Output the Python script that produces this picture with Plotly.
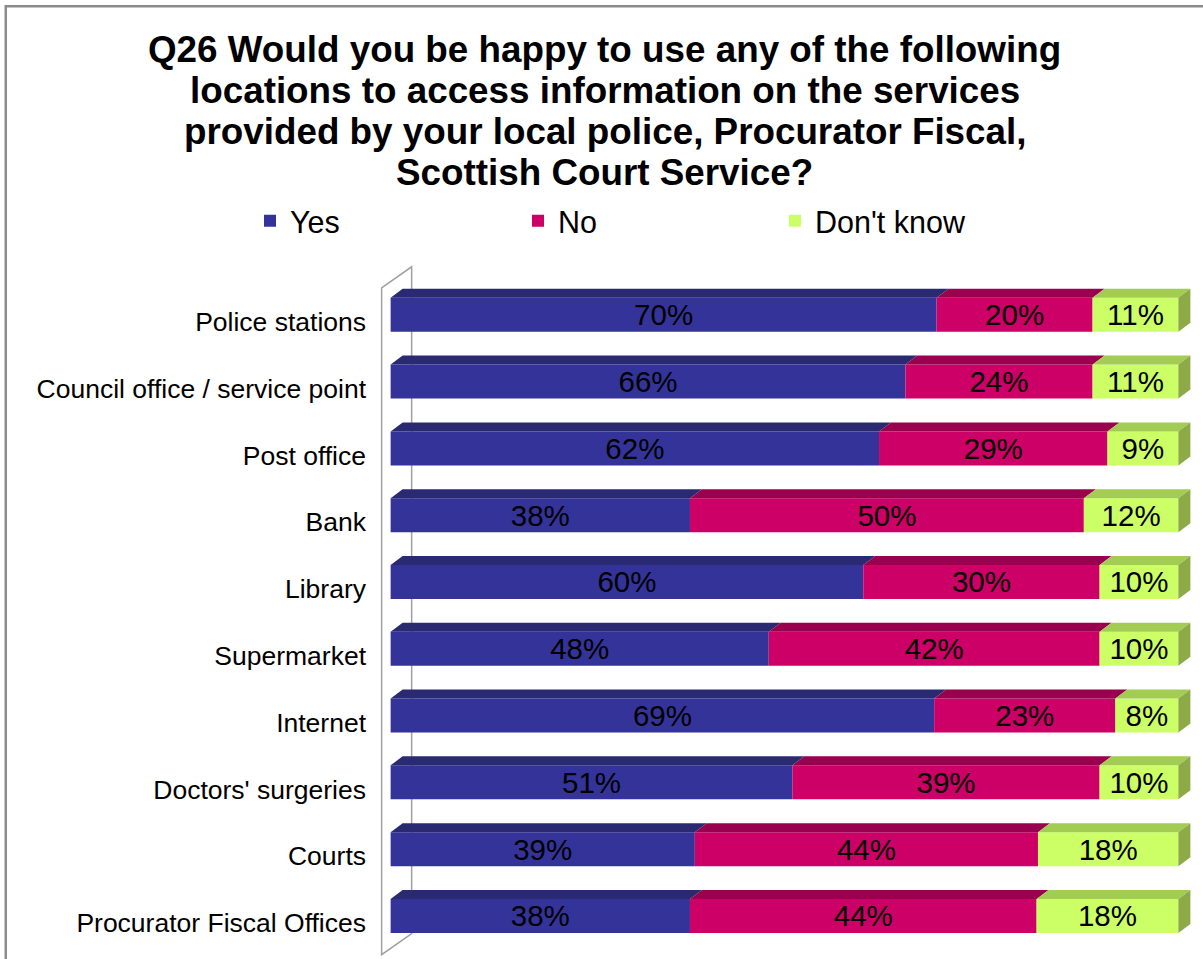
import plotly.graph_objects as go

# ---- survey data -------------------------------------------------------
categories = [
    "Police stations",
    "Council office / service point",
    "Post office",
    "Bank",
    "Library",
    "Supermarket",
    "Internet",
    "Doctors' surgeries",
    "Courts",
    "Procurator Fiscal Offices",
]
yes = [70, 66, 62, 38, 60, 48, 69, 51, 39, 38]
no = [20, 24, 29, 50, 30, 42, 23, 39, 44, 44]
dont_know = [11, 11, 9, 12, 10, 10, 8, 10, 18, 18]

series_names = ["Yes", "No", "Don't know"]
title_lines = [
    "Q26 Would you be happy to use any of the following",
    "locations to access information on the services",
    "provided by your local police, Procurator Fiscal,",
    "Scottish Court Service?",
]

# ---- styling -----------------------------------------------------------
FONT = "Liberation Sans, Arial, sans-serif"
front_col = ["#333399", "#CC0066", "#CCFF66"]
top_col = ["#2A2A73", "#99004D", "#A3CC52"]
side_col = "#8CAA46"
wall_col = "#A0A0A0"

W, H = 1203, 959
X0_PX, PX_PER_PCT = 391.0, 7.87       # pixel of 0 % and pixels per percent
Y0_PX, ROW_PX = 315.0, 66.8           # centre of first row and row pitch
XR = [-3.0, 103.0]
YR = [9.6, -1.0]                      # reversed: first category at the top

m_l = X0_PX + XR[0] * PX_PER_PCT
plot_w = (XR[1] - XR[0]) * PX_PER_PCT
m_r = W - m_l - plot_w
m_t = Y0_PX + YR[1] * ROW_PX
plot_h = (YR[0] - YR[1]) * ROW_PX
m_b = H - m_t - plot_h

BAR_W = 34.0 / ROW_PX
DX = 12.0 / PX_PER_PCT                # 3-D depth offset (x, data units)
DY = 9.0 / ROW_PX                     # 3-D depth offset (y, data units)


def xd(px):
    return (px - X0_PX) / PX_PER_PCT


def yd(py):
    return (py - Y0_PX) / ROW_PX


def paper_x(px):
    return (px - m_l) / plot_w


def paper_y(py):
    return (m_t + plot_h - py) / plot_h


# 100 % stacked shares
rows = list(zip(yes, no, dont_know))
shares = [[v * 100.0 / sum(r) for v in r] for r in rows]
ypos = list(range(len(categories)))

fig = go.Figure()
legend_ids = ["legend", "legend2", "legend3"]
for k, (name, vals) in enumerate(zip(series_names, [yes, no, dont_know])):
    fig.add_trace(go.Bar(
        y=ypos,
        x=[s[k] for s in shares],
        base=[sum(s[:k]) for s in shares],
        orientation="h",
        name=name,
        width=BAR_W,
        marker=dict(color=front_col[k], line=dict(width=0)),
        text=[f"{v}%" for v in vals],
        textposition="inside",
        insidetextanchor="middle",
        constraintext="none",
        textfont=dict(family=FONT, size=29.5, color="black"),
        hoverinfo="skip",
        legend=legend_ids[k],
    ))

shapes = []

# left wall of the 3-D plot area
wall = (f"M{xd(382)},{yd(288)} L{xd(412)},{yd(267)} L{xd(412)},{yd(934)} "
        f"L{xd(382)},{yd(955)} Z")
shapes.append(dict(type="path", xref="x", yref="y", path=wall,
                   line=dict(color=wall_col, width=1.5), layer="below"))

# top and end faces that give the bars their depth
for i, s in enumerate(shares):
    top = i - BAR_W / 2
    bot = i + BAR_W / 2
    start = 0.0
    for k, v in enumerate(s):
        x0, x1 = start, start + v
        path = (f"M{x0},{top} L{x0 + DX},{top - DY} L{x1 + DX},{top - DY} "
                f"L{x1},{top} Z")
        shapes.append(dict(type="path", xref="x", yref="y", path=path,
                           fillcolor=top_col[k], line=dict(width=0),
                           layer="above"))
        start = x1
    side = (f"M{start},{top} L{start + DX},{top - DY} L{start + DX},{bot - DY} "
            f"L{start},{bot} Z")
    shapes.append(dict(type="path", xref="x", yref="y", path=side,
                       fillcolor=side_col, line=dict(width=0), layer="above"))

# chart frame
shapes.append(dict(type="rect", xref="paper", yref="paper",
                   x0=paper_x(6.5), x1=paper_x(1230),
                   y0=paper_y(990), y1=paper_y(6.5),
                   line=dict(color="#8C8C8C", width=2.5), layer="below"))

# title, one annotation per line
annotations = []
for j, line in enumerate(title_lines):
    annotations.append(dict(
        text=f"<b>{line}</b>", xref="paper", yref="paper",
        x=paper_x(605), y=paper_y(50 + 41 * j),
        xanchor="center", yanchor="middle", showarrow=False,
        font=dict(family=FONT, size=36.8, color="black"),
    ))

legend_common = dict(
    orientation="h", xref="container", yref="container",
    xanchor="left", yanchor="middle", y=1 - 221 / H,
    font=dict(family=FONT, size=30.5, color="black"),
    bgcolor="rgba(0,0,0,0)", borderwidth=0,
)
legend_x = [250, 518, 775]

fig.update_layout(
    width=W, height=H,
    margin=dict(l=m_l, r=m_r, t=m_t, b=m_b, autoexpand=False),
    paper_bgcolor="white", plot_bgcolor="rgba(0,0,0,0)",
    barmode="overlay",
    showlegend=True,
    legend=dict(x=legend_x[0] / W, **legend_common),
    legend2=dict(x=legend_x[1] / W, **legend_common),
    legend3=dict(x=legend_x[2] / W, **legend_common),
    xaxis=dict(range=XR, visible=False, fixedrange=True),
    yaxis=dict(
        range=YR, tickmode="array", tickvals=ypos, ticktext=categories,
        showgrid=False, zeroline=False, showline=False, ticks="",
        tickfont=dict(family=FONT, size=26.5, color="black"),
        ticklabelshift=-7, fixedrange=True,
    ),
    shapes=shapes,
    annotations=annotations,
    font=dict(family=FONT),
)

fig.write_html("out.html")
